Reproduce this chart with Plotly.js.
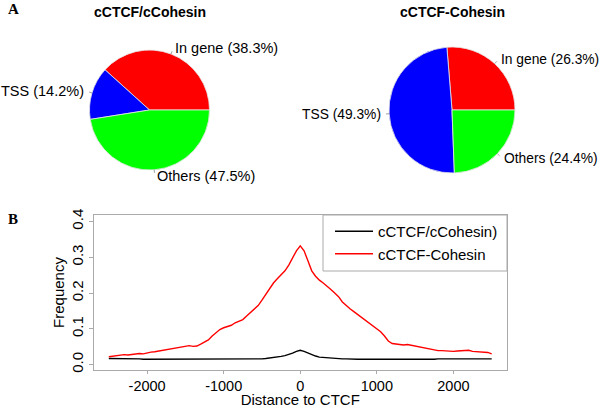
<!DOCTYPE html>
<html>
<head>
<meta charset="utf-8">
<script src="https://cdn.plot.ly/plotly-3.0.1.min.js"></script>
<style>html,body{margin:0;padding:0;background:#fff;}#chart{width:600px;height:408px;}</style>
</head>
<body>
<div id="chart"></div>
<script>
// ---- Data ----
var pieCategories = ['In gene', 'TSS', 'Others'];
var pieColors = ['#FF0000', '#0000FF', '#00FF00'];
var pieLeftTitle = 'cCTCF/cCohesin';
var pieLeftValues = [38.3, 14.2, 47.5];
var pieRightTitle = 'cCTCF-Cohesin';
var pieRightValues = [26.3, 49.3, 24.4];

var distance = [-2500,-2450,-2400,-2350,-2300,-2250,-2200,-2150,-2100,-2050,-2000,-1950,-1900,-1850,-1800,-1750,-1700,-1650,-1600,-1550,-1500,-1450,-1400,-1350,-1300,-1250,-1200,-1150,-1100,-1050,-1000,-950,-900,-850,-800,-750,-700,-650,-600,-550,-500,-450,-400,-350,-300,-250,-200,-150,-100,-50,0,50,100,150,200,250,300,350,400,450,500,550,600,650,700,750,800,850,900,950,1000,1050,1100,1150,1200,1250,1300,1350,1400,1450,1500,1550,1600,1650,1700,1750,1800,1850,1900,1950,2000,2050,2100,2150,2200,2250,2300,2350,2400,2450,2500];
var freqCohesin = [0.022,0.024,0.026,0.027,0.028,0.027,0.029,0.030,0.031,0.030,0.033,0.035,0.036,0.038,0.039,0.040,0.043,0.044,0.046,0.049,0.050,0.053,0.051,0.052,0.057,0.062,0.069,0.080,0.088,0.098,0.103,0.106,0.110,0.117,0.121,0.126,0.136,0.145,0.155,0.165,0.180,0.197,0.212,0.228,0.240,0.250,0.262,0.278,0.298,0.318,0.332,0.318,0.290,0.262,0.247,0.236,0.228,0.220,0.210,0.200,0.190,0.175,0.164,0.156,0.148,0.140,0.132,0.126,0.118,0.110,0.101,0.092,0.080,0.066,0.059,0.057,0.056,0.055,0.056,0.054,0.050,0.048,0.047,0.044,0.042,0.040,0.039,0.039,0.038,0.037,0.037,0.038,0.039,0.041,0.040,0.037,0.036,0.036,0.035,0.034,0.030];
var freqcCohesin = [0.017,0.017,0.017,0.018,0.018,0.017,0.017,0.016,0.016,0.015,0.015,0.015,0.015,0.015,0.015,0.015,0.015,0.015,0.015,0.015,0.015,0.015,0.015,0.015,0.015,0.015,0.015,0.015,0.015,0.015,0.015,0.014,0.014,0.014,0.014,0.015,0.015,0.015,0.015,0.016,0.016,0.017,0.018,0.019,0.021,0.023,0.025,0.028,0.032,0.037,0.040,0.037,0.032,0.027,0.024,0.021,0.020,0.018,0.017,0.017,0.016,0.016,0.016,0.015,0.015,0.015,0.015,0.015,0.015,0.015,0.015,0.015,0.015,0.015,0.015,0.014,0.014,0.014,0.014,0.013,0.013,0.013,0.014,0.014,0.015,0.015,0.016,0.016,0.017,0.017,0.018,0.018,0.018,0.017,0.017,0.017,0.017,0.017,0.017,0.016,0.016];
var lineNames = ['cCTCF/cCohesin)', 'cCTCF-Cohesin'];
var xTickVals = [-2000, -1000, 0, 1000, 2000];
var xTickText = ['-2000', '-1000', '0', '1000', '2000'];
var yTickVals = [0, 0.1, 0.2, 0.3, 0.4];
var yTickText = ['0.0', '0.1', '0.2', '0.3', '0.4'];

// ---- Layout helpers ----
var W = 600, H = 408;
var FONT = 'Liberation Sans, Arial, sans-serif';
function px2x(p){ return p / W; }
function px2y(p){ return 1 - p / H; }

var pies = [
  {title: pieLeftTitle, values: pieLeftValues, cx: 149.5, cy: 110, r: 60, fs: 14.5},
  {title: pieRightTitle, values: pieRightValues, cx: 452, cy: 110, r: 63, fs: 13.8}
];

var traces = [];
var annotations = [];
var shapes = [];

pies.forEach(function(p){
  var total = p.values.reduce(function(a,b){return a+b;}, 0);
  // first slice starts at 3 o'clock and slices run counterclockwise (as in R's pie)
  var firstAngle = p.values[0] / total * 360;
  traces.push({
    type: 'pie', labels: pieCategories, values: p.values, sort: false,
    direction: 'counterclockwise', rotation: 90 - firstAngle, textinfo: 'none',
    hoverinfo: 'label+percent', showlegend: false,
    marker: {colors: pieColors, line: {color: '#e6e6e6', width: 0.8}},
    domain: {x: [px2x(p.cx - p.r), px2x(p.cx + p.r)], y: [px2y(p.cy + p.r), px2y(p.cy - p.r)]}
  });
  annotations.push({
    xref: 'paper', yref: 'paper', x: px2x(p.cx), y: px2y(12), xanchor: 'center', yanchor: 'middle',
    text: '<b>' + p.title + '</b>', showarrow: false, font: {family: FONT, size: 14, color: '#000'}
  });
  var cum = 0;
  p.values.forEach(function(v, i){
    var mid = (cum + v/2) / total * 2 * Math.PI;
    cum += v;
    var c = Math.cos(mid), s = Math.sin(mid);
    shapes.push({type: 'line', xref: 'paper', yref: 'paper',
      x0: px2x(p.cx + p.r*c), y0: px2y(p.cy - p.r*s),
      x1: px2x(p.cx + 1.05*p.r*c), y1: px2y(p.cy - 1.05*p.r*s),
      line: {color: '#888', width: 0.8}});
    annotations.push({
      xref: 'paper', yref: 'paper', x: px2x(p.cx + 1.1*p.r*c), y: px2y(p.cy - 1.1*p.r*s),
      xanchor: c < 0 ? 'right' : 'left', yanchor: 'middle', showarrow: false,
      text: pieCategories[i] + ' (' + v.toFixed(1) + '%)',
      font: {family: FONT, size: p.fs, color: '#000'}
    });
  });
});

traces.push({type: 'scatter', mode: 'lines', x: distance, y: freqcCohesin, name: lineNames[0],
  line: {color: '#000000', width: 1.4}, xaxis: 'x', yaxis: 'y'});
traces.push({type: 'scatter', mode: 'lines', x: distance, y: freqCohesin, name: lineNames[1],
  line: {color: '#FF0000', width: 1.4}, xaxis: 'x', yaxis: 'y'});

annotations.push({xref: 'paper', yref: 'paper', x: px2x(6), y: px2y(9), xanchor: 'left', yanchor: 'middle',
  text: '<b>A</b>', showarrow: false, font: {family: 'Liberation Serif, Times New Roman, serif', size: 15, color: '#000'}});
annotations.push({xref: 'paper', yref: 'paper', x: px2x(6), y: px2y(219), xanchor: 'left', yanchor: 'middle',
  text: '<b>B</b>', showarrow: false, font: {family: 'Liberation Serif, Times New Roman, serif', size: 15, color: '#000'}});

// legend box
shapes.push({type: 'rect', xref: 'paper', yref: 'paper', x0: px2x(323), x1: px2x(507), y0: px2y(271), y1: px2y(215),
  line: {color: '#aaa', width: 1}, fillcolor: 'rgba(0,0,0,0)'});

var layout = {
  width: W, height: H,
  margin: {l: 0, r: 0, t: 0, b: 0},
  paper_bgcolor: '#fff', plot_bgcolor: '#fff',
  font: {family: FONT, size: 15, color: '#000'},
  xaxis: {
    domain: [px2x(93.5), px2x(507)], anchor: 'y', range: [-2700, 2700],
    tickvals: xTickVals, ticktext: xTickText, ticks: 'outside', ticklen: 3, tickcolor: '#aaa',
    showline: true, linecolor: '#aaa', linewidth: 1, mirror: true, showgrid: false, zeroline: false,
    tickfont: {family: FONT, size: 14.5, color: '#000'},
    title: {text: 'Distance to CTCF', font: {family: FONT, size: 15, color: '#000'}, standoff: 7}
  },
  yaxis: {
    domain: [px2y(370), px2y(215)], anchor: 'x', range: [-0.015, 0.418],
    tickvals: yTickVals, ticktext: yTickText, tickangle: -90, ticks: 'outside', ticklen: 4, tickcolor: '#aaa',
    showline: true, linecolor: '#aaa', linewidth: 1, mirror: true, showgrid: false, zeroline: false,
    tickfont: {family: FONT, size: 15, color: '#000'},
    title: {text: 'Frequency', font: {family: FONT, size: 15, color: '#000'}, standoff: 0}
  },
  showlegend: true,
  legend: {
    x: px2x(330), xanchor: 'left', y: px2y(215), yanchor: 'top',
    bgcolor: 'rgba(0,0,0,0)', borderwidth: 0, itemwidth: 38,
    font: {family: FONT, size: 15, color: '#000'}, tracegroupgap: 0
  },
  annotations: annotations,
  shapes: shapes
};

Plotly.newPlot('chart', traces, layout, {displayModeBar: false, staticPlot: true});
</script>
</body>
</html>
